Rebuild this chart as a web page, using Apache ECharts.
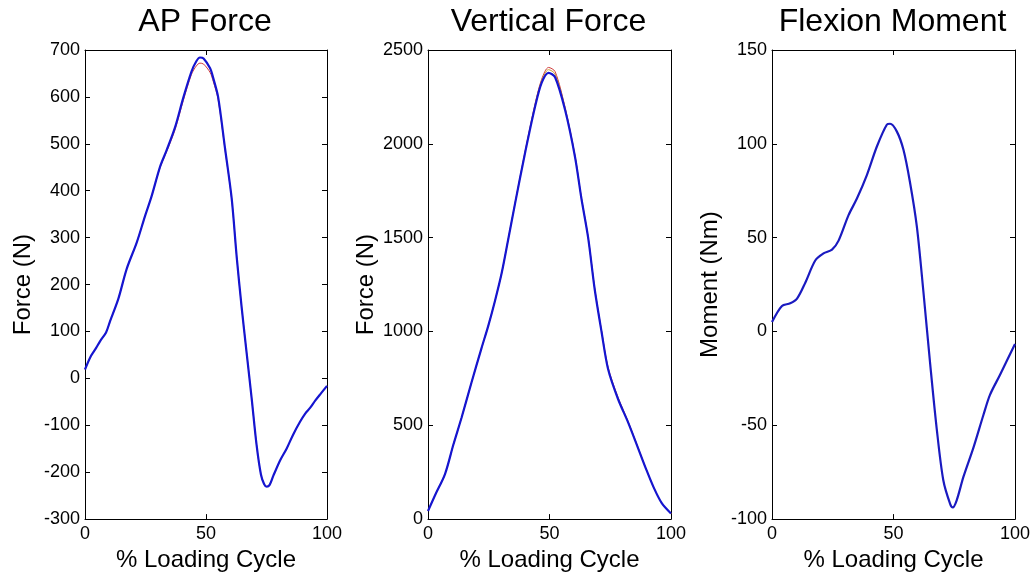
<!DOCTYPE html>
<html>
<head>
<meta charset="utf-8">
<script src="https://cdn.jsdelivr.net/npm/echarts@6/dist/echarts.min.js"></script>
<style>
  html, body { margin: 0; padding: 0; background: #fff; }
  #chart { width: 1034px; height: 577px; }
</style>
</head>
<body>
<div id="chart"></div>
<script>
// % loading cycle sample points
var apX = [0, 2.5, 4.6, 6.2, 8.7, 10.3, 13.8, 17.2, 21.4, 24.8, 27.5, 31, 33.7, 37.2, 40.6, 44, 46, 47.5, 49, 51.7, 53, 55, 57.9, 60.6, 62.7, 64.7, 66.8, 68.9, 70.9, 72.7, 74, 75.1, 76.3, 77.8, 80.6, 83.3, 86, 88.8, 91, 93, 95.2, 97.5, 100];
var apBlue = [19, 48, 65, 79, 98, 121, 170, 233, 290, 346, 388, 451, 486, 535, 598, 654, 676, 684, 682, 661, 640, 600, 489, 384, 258, 153, 54, -44, -142, -205, -225, -231, -227, -208, -175, -150, -120, -93, -75, -63, -47, -32, -16];
var apRed = [19, 48, 65, 79, 98, 121, 170, 233, 290, 346, 388, 449, 483, 530, 592, 648, 666, 672, 670, 652, 633, 595, 486, 383, 258, 153, 54, -44, -142, -205, -225, -230, -227, -208, -175, -150, -120, -93, -75, -63, -47, -32, -16];

var vfX = [0, 3, 7, 10.4, 13.8, 17.9, 22, 24.8, 27.5, 30.3, 33, 35.8, 40, 44.1, 46.8, 49.6, 52.3, 56.4, 60.5, 63.1, 65.9, 68.6, 71.4, 74.1, 78.2, 82.3, 86.4, 89.8, 93, 96.2, 100];
var vfBlue = [43, 130, 240, 395, 540, 728, 910, 1030, 1160, 1310, 1490, 1680, 1955, 2200, 2326, 2378, 2355, 2181, 1930, 1711, 1500, 1225, 1000, 800, 640, 517, 380, 265, 165, 85, 30];
var vfRed = [43, 130, 240, 395, 540, 728, 910, 1030, 1160, 1310, 1492, 1683, 1962, 2215, 2345, 2407, 2385, 2195, 1937, 1714, 1503, 1229, 1005, 809, 649, 522, 383, 266, 165, 85, 30];
var vfGold = [43, 130, 240, 395, 540, 728, 910, 1030, 1160, 1310, 1491, 1681, 1958, 2210, 2338, 2395, 2372, 2190, 1933, 1712, 1501, 1227, 1002, 804, 644, 519, 381, 265, 165, 85, 30];

var fmX = [0, 4.1, 7.5, 10.3, 13.7, 17.8, 21.2, 24.7, 27.4, 31.5, 34.9, 39, 43.2, 47.3, 48.6, 51.4, 54.1, 56.8, 59.6, 62.3, 65.1, 67.8, 70.5, 73.3, 74.4, 76, 78.8, 82.9, 87, 89.7, 93.8, 100];
var fmBlue = [5, 13.6, 15, 17.5, 26, 37.8, 41.6, 43.6, 48.4, 62, 70.7, 83.2, 98.7, 110.3, 110.7, 106.5, 96.8, 79.4, 56, 21.3, -17.4, -52, -79.3, -91.9, -93.8, -90, -77.4, -61.9, -44.5, -33.8, -23.2, -6.7];

var titles = ['AP Force', 'Vertical Force', 'Flexion Moment'];
var yNames = ['Force (N)', 'Force (N)', 'Moment (Nm)'];
var yMin = [-300, 0, -100];
var yMax = [700, 2500, 150];
var yStep = [100, 500, 50];

var FONT = 'Liberation Sans, Arial, sans-serif';
var grids = [
    {left: 85, top: 50, width: 242, height: 475},
    {left: 428, top: 50, width: 243, height: 475},
    {left: 772, top: 50, width: 243, height: 475}
];

function pairs(xs, ys) {
    var out = [];
    for (var i = 0; i < xs.length; i++) {
        out.push([xs[i], ys[i]]);
    }
    return out;
}

function plain(v) {
    return String(v);
}

var xAxes = [], yAxes = [], graphics = [];
for (var i = 0; i < 3; i++) {
    xAxes.push({
        gridIndex: i, type: 'value', min: 0, max: 100, interval: 50,
        axisLine: {onZero: false, lineStyle: {color: '#000', width: 1}},
        axisTick: {inside: true, length: 5, lineStyle: {color: '#000'}},
        axisLabel: {color: '#000', fontSize: 18, fontFamily: FONT, margin: 6, formatter: plain},
        splitLine: {show: false},
        name: '% Loading Cycle', nameLocation: 'middle', nameGap: 21,
        nameTextStyle: {color: '#000', fontSize: 24, fontFamily: FONT}
    });
    yAxes.push({
        gridIndex: i, type: 'value', min: yMin[i], max: yMax[i], interval: yStep[i],
        axisLine: {show: true, onZero: false, lineStyle: {color: '#000', width: 1}},
        axisTick: {show: true, inside: true, length: 5, lineStyle: {color: '#000'}},
        axisLabel: {color: '#000', fontSize: 18, fontFamily: FONT, margin: 5, formatter: plain},
        splitLine: {show: false},
        name: yNames[i], nameLocation: 'middle', nameGap: 50,
        nameTextStyle: {color: '#000', fontSize: 24, fontFamily: FONT}
    });
    var g = grids[i];
    graphics.push({
        type: 'text',
        x: g.left + g.width / 2 - 1, y: 22,
        style: {text: titles[i], fill: '#000', font: '32px ' + FONT, align: 'center', verticalAlign: 'middle'}
    });
}
// box axes (top/right) with inward ticks, matlab style
for (var i = 0; i < 3; i++) {
    xAxes.push({
        gridIndex: i, type: 'value', position: 'top', min: 0, max: 100, interval: 50,
        axisLine: {onZero: false, lineStyle: {color: '#000'}},
        axisTick: {inside: true, length: 5, lineStyle: {color: '#000'}},
        axisLabel: {show: false}, splitLine: {show: false}
    });
    yAxes.push({
        gridIndex: i, type: 'value', position: 'right', min: yMin[i], max: yMax[i], interval: yStep[i],
        axisLine: {show: true, onZero: false, lineStyle: {color: '#000'}},
        axisTick: {show: true, inside: true, length: 5, lineStyle: {color: '#000'}},
        axisLabel: {show: false}, splitLine: {show: false}
    });
}

function line(idx, xs, ys, color, width) {
    return {
        type: 'line', xAxisIndex: idx, yAxisIndex: idx,
        data: pairs(xs, ys), smooth: 0.3, showSymbol: false,
        lineStyle: {color: color, width: width}, silent: true
    };
}

var chart = echarts.init(document.getElementById('chart'), null, {renderer: 'canvas'});
chart.setOption({
    backgroundColor: '#fff',
    animation: false,
    grid: grids,
    xAxis: xAxes,
    yAxis: yAxes,
    graphic: graphics,
    series: [
        line(0, apX, apRed, '#d03c3c', 1),
        line(0, apX, apBlue, '#1515d0', 2.2),
        line(1, vfX, vfRed, '#d03c3c', 1),
        line(1, vfX, vfGold, '#c8a030', 1),
        line(1, vfX, vfBlue, '#1515d0', 2.2),
        line(2, fmX, fmBlue, '#1a1ac0', 2.2)
    ]
});
</script>
</body>
</html>
